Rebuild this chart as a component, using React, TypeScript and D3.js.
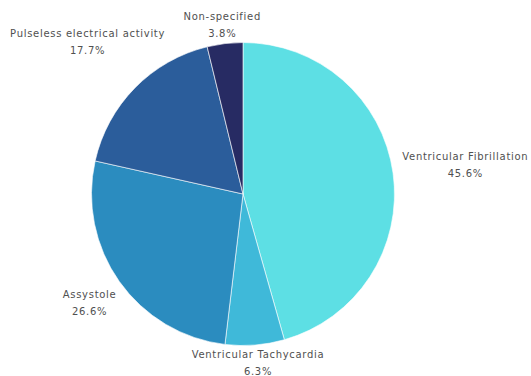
import React from "react";
import * as d3 from "d3";

const categories = [
  "Ventricular Fibrillation",
  "Ventricular Tachycardia",
  "Assystole",
  "Pulseless electrical activity",
  "Non-specified",
];
const values = [45.6, 6.3, 26.6, 17.7, 3.8];
const percentLabels = ["45.6%", "6.3%", "26.6%", "17.7%", "3.8%"];
const colors = ["#5ddfe4", "#3fb9d9", "#2b8cbf", "#2b5d9b", "#272b63"];
// label layout nudges (pixels) relative to the outer centroid
const labelNudge: [number, number][] = [
  [58, -7],
  [2, 3],
  [-18, 13],
  [-37, -36],
  [-1, -5],
];

const W = 531;
const H = 376;
const cx = 243;
const cy = 194;
const R = 151.5;

export default function App() {
  const pie = d3.pie<number>().sort(null).value((d) => d)(values);
  const arc = d3.arc<d3.PieArcDatum<number>>().innerRadius(0).outerRadius(R);
  const labelArc = d3
    .arc<d3.PieArcDatum<number>>()
    .innerRadius(R * 1.095)
    .outerRadius(R * 1.095);
  return (
    <svg
      width={W}
      height={H}
      style={{ position: "fixed", left: 0, top: 0, background: "#fff" }}
    >
      <g transform={`translate(${cx},${cy})`}>
        {pie.map((p, i) => (
          <path
            key={i}
            d={arc(p) || ""}
            fill={colors[i]}
            stroke="#ffffff"
            strokeWidth={0.6}
          />
        ))}
        {pie.map((p, i) => {
          const [x, y] = labelArc.centroid(p);
          const lx = x + labelNudge[i][0];
          const ly = y + labelNudge[i][1];
          return (
            <text
              key={"t" + i}
              x={lx}
              y={ly}
              textAnchor="middle"
              fontFamily="'DejaVu Sans', sans-serif"
              fontSize={10}
              letterSpacing={0.7}
              fill="#505050"
            >
              <tspan x={lx} dy={-4.5}>
                {categories[i]}
              </tspan>
              <tspan x={lx} dy={17}>
                {percentLabels[i]}
              </tspan>
            </text>
          );
        })}
      </g>
    </svg>
  );
}
